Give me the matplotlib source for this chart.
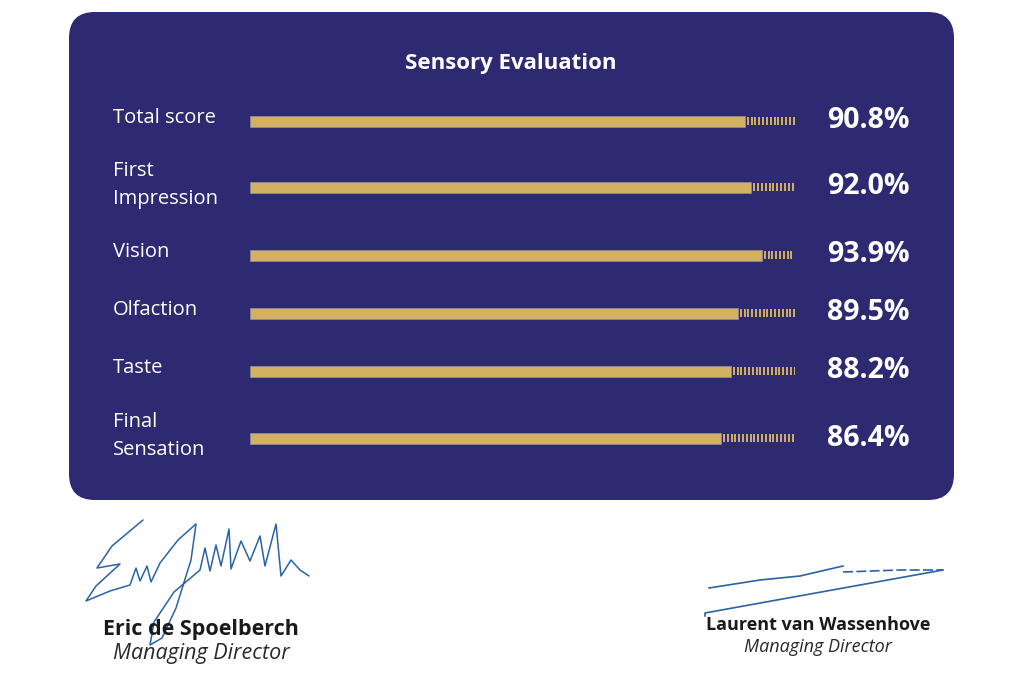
import matplotlib.pyplot as plt
import numpy as np
from matplotlib.patches import FancyBboxPatch

plt.rcParams['font.family'] = ['Open Sans', 'DejaVu Sans']

# data
labels = ["Total score", "First\nImpression", "Vision", "Olfaction", "Taste", "Final\nSensation"]
scores = [90.8, 92.0, 93.9, 89.5, 88.2, 86.4]
row_y = [121, 187, 255, 313, 371, 438]   # row centres (px from top)

navy = "#2d2a71"
gold = "#d3b062"
ink = "#2a62a8"

fig = plt.figure(figsize=(10.24, 6.82), dpi=100)
bg = fig.add_axes([0, 0, 1, 1])
bg.set_xlim(0, 1024)
bg.set_ylim(682, 0)
bg.axis("off")

panel = FancyBboxPatch((69, 12), 885, 488, boxstyle="round,pad=0,rounding_size=26",
                       fc=navy, ec="none")
bg.add_patch(panel)

bg.text(511, 63, "Sensory Evaluation", color="white", fontsize=16,
        fontweight="bold", ha="center", va="center")

for lab, s, y in zip(labels, scores, row_y):
    bg.text(113, y - 3 if "\n" not in lab else y - 2, lab, color="white", fontsize=14.5,
            ha="left", va="center", linespacing=1.58)
    bg.text(868, y, f"{s:.1f}%", color="white", fontsize=20.5,
            fontweight="bold", ha="center", va="center")

# bars
ax = fig.add_axes([250 / 1024, 0, 545 / 1024, 1])
ax.set_xlim(0, 100)
ax.set_ylim(682, 0)
ax.axis("off")
ax.barh(row_y, scores, height=11, color=gold, edgecolor="#8f8a8c", linewidth=0.6)
for s, y in zip(scores, row_y):
    xs = np.arange(s + 0.55, 100, 0.7)
    ax.vlines(xs, y - 4, y + 4, color=gold, linewidth=1.4)

# signatures
eric = [(143, 520), (112, 546), (97, 568), (120, 564), (96, 586), (86, 601), (110, 591),
        (130, 585), (136, 568), (140, 581), (147, 566), (151, 582), (160, 563),
        (178, 540), (196, 524), (191, 560), (176, 608), (162, 638), (150, 645),
        (154, 622), (174, 592), (200, 570), (205, 548), (210, 571), (216, 545),
        (221, 566), (229, 529), (231, 569), (241, 541), (250, 561), (260, 536),
        (265, 566), (276, 524), (281, 576), (291, 560), (300, 570), (309, 576)]
ex, ey = zip(*eric)
bg.plot(ex, ey, color=ink, lw=1.1, solid_capstyle="round", solid_joinstyle="round")

bg.plot([709, 760, 800, 843], [588, 580, 576, 566], color=ink, lw=1.2)
bg.plot([843, 900, 943], [572, 570, 570], color=ink, lw=1.2, ls=(0, (6, 2)))
bg.plot([705, 705, 943], [616, 613, 570], color=ink, lw=1.2)

bg.text(201, 629, "Eric de Spoelberch", fontsize=15.5, fontweight="bold",
        color="#1a1a1a", ha="center", va="center")
bg.text(201, 654, "Managing Director", fontsize=15.5, style="italic",
        color="#2a2a2a", ha="center", va="center")
bg.text(818, 625, "Laurent van Wassenhove", fontsize=13, fontweight="bold",
        color="#1a1a1a", ha="center", va="center")
bg.text(818, 647, "Managing Director", fontsize=13, style="italic",
        color="#2a2a2a", ha="center", va="center")

fig.savefig("out.png", dpi=100, facecolor="white")
